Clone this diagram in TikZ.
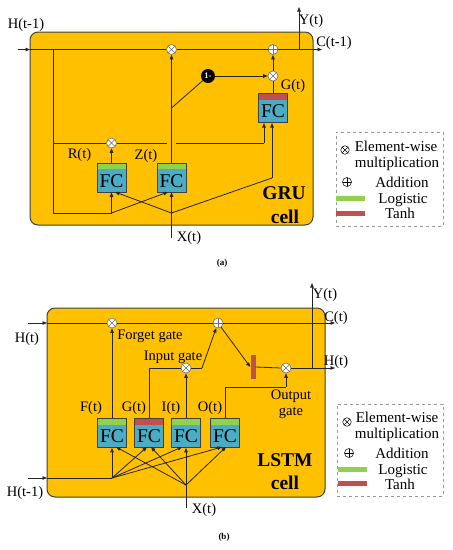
\documentclass[tikz,border=0pt]{standalone}
\usepackage{fontspec}
\setmainfont{Liberation Serif}
\usetikzlibrary{arrows.meta}
\definecolor{gold}{HTML}{FFC000}
\definecolor{boxc}{HTML}{404040}
\definecolor{fcblue}{HTML}{4BACC6}
\definecolor{lgreen}{HTML}{92D050}
\definecolor{lred}{HTML}{C0504D}
\definecolor{lnc}{HTML}{262626}
\definecolor{circc}{HTML}{6F6F6F}
\newcommand\lblfont{\fontsize{14.5}{16}\selectfont}
\newcommand\fcfont{\fontsize{19.5}{20}\selectfont}
\newcommand\cellfont{\fontsize{19.5}{21}\selectfont\bfseries}
\newcommand\capfont{\fontsize{9}{10}\selectfont\bfseries}
\tikzset{
  cellbox/.style={draw=boxc, line width=1pt, fill=gold, rounded corners=8pt, inner sep=0pt},
  ln/.style={draw=lnc, line width=0.8pt},
  arr/.style={ln, -{Triangle[length=4.5pt,width=3.5pt]}},
  lbl/.style={font=\lblfont, inner sep=0pt, text=black},
  celltxt/.style={font=\cellfont, inner sep=0pt},
  multc/.style={circle, draw=circc, fill=white, line width=0.6pt, minimum size=10pt, inner sep=0pt,
    path picture={\draw[circc, line width=0.5pt] (path picture bounding box.north west) -- (path picture bounding box.south east) (path picture bounding box.north east) -- (path picture bounding box.south west);}},
  addc/.style={circle, draw=circc, fill=white, line width=0.6pt, minimum size=10pt, inner sep=0pt,
    path picture={\draw[circc, line width=0.5pt] (path picture bounding box.north) -- (path picture bounding box.south) (path picture bounding box.west) -- (path picture bounding box.east);}},
  legmult/.style={circle, draw=black, line width=0.5pt, minimum size=8.5pt, inner sep=0pt,
    path picture={\draw[black, line width=0.4pt] (path picture bounding box.north west) -- (path picture bounding box.south east) (path picture bounding box.north east) -- (path picture bounding box.south west);}},
  legadd/.style={circle, draw=black, line width=0.5pt, minimum size=9pt, inner sep=0pt,
    path picture={\draw[black, line width=0.4pt] (path picture bounding box.north) -- (path picture bounding box.south) (path picture bounding box.west) -- (path picture bounding box.east);}},
  onec/.style={circle, fill=black, minimum size=14pt, inner sep=0pt, text=white, font=\fontsize{8.5}{8.5}\selectfont\bfseries},
  fcbox/.style={draw=boxc, fill=fcblue, line width=0.7pt, minimum width=29pt, minimum height=29pt, inner sep=0pt,
    font=\fcfont, text height=19pt, text depth=0pt,
    path picture={\fill[#1] (path picture bounding box.north west) rectangle ([yshift=-6pt]path picture bounding box.north east);}},
  legbox/.style={draw=gray!80, dashed, line width=0.6pt, inner sep=0pt},
  legbar/.style={inner sep=0pt, minimum width=29pt, minimum height=5pt, fill=#1},
  tanhbar/.style={inner sep=0pt, minimum width=5pt, minimum height=24pt, fill=lred},
}
\begin{document}
\begin{tikzpicture}[x=1pt, y=-1pt]
\useasboundingbox (0,0) rectangle (453,550);

%%%%%%%%%%%%%%%%%%%% (a) GRU %%%%%%%%%%%%%%%%%%%%
\node[cellbox, minimum width=283pt, minimum height=193pt] (gcell) at (171.5,128.5) {};

% circles
\node[multc] (gm1) at (171.5,49.5) {};
\node[addc]  (ga1) at (273,49.5) {};
\node[multc] (gm3) at (273,76) {};
\node[onec]  (gone) at (208,76) {1-};
\node[multc] (gmr) at (111.5,143) {};

% FC boxes
\node[fcbox=lgreen] (gfr) at (111.5,177.5) {FC};
\node[fcbox=lgreen] (gfz) at (171.5,177.5) {FC};
\node[fcbox=lred]   (gfg) at (273,108) {FC};

% coordinates
\coordinate (ghin) at (18,49.5);
\coordinate (ghe)  at (30,49.5);
\coordinate (gcout) at (322,49.5);
\coordinate (gyb) at (299,49.5);
\coordinate (gyt) at (299,7);
\coordinate (gtl) at (53,49.5);
\coordinate (gbl) at (53,213);
\coordinate (gjr) at (111.5,213);
\coordinate (grl) at (53,143);
\coordinate (gc1) at (167,143);
\coordinate (gc2) at (176,143);
\coordinate (gc3) at (264,143);
\coordinate (gfgin1) at (264,123);
\coordinate (gfgin2) at (272,123);
\coordinate (gxr) at (272,178);
\coordinate (gzt) at (171.5,108);
\coordinate (gxb) at (171.5,238);
\coordinate (gxj) at (171.5,213);
\coordinate (gfzin) at (168,192);
\coordinate (gfrin) at (115,192);

% connectors
\draw[arr] (ghin) -- (ghe);
\draw[ln] (ghe) -- (gm1);
\draw[ln] (gm1) -- (ga1);
\draw[arr] (ga1) -- (gcout);
\draw[arr] (gyb) -- (gyt);
\draw[ln] (gtl) -- (gbl) -- (gjr);
\draw[ln] (grl) -- (gmr);
\draw[ln] (gmr) -- (gc1);
\draw[ln] (gc2) -- (gc3);
\draw[arr] (gc3) -- (gfgin1);
\draw[arr] (gfr.north) -- (gmr.south);
\draw[arr] (gfz.north) -- (gm1.south);
\draw[ln] (gzt) -- (gone);
\draw[arr] (gone) -- (gm3);
\draw[arr] (gm3) -- (ga1);
\draw[ln] (gfg.north) -- (gm3.south);
\draw[arr] (gjr) -- (gfr.south);
\draw[arr] (gjr) -- (gfzin);
\draw[arr] (gxb) -- (gfz.south);
\draw[arr] (gxj) -- (gfrin);
\draw[ln] (gxj) -- (gxr);
\draw[arr] (gxr) -- (gfgin2);

% labels
\node[lbl] (lgh) at (26,25) {H(t-1)};
\node[lbl] (lgc) at (334,43) {C(t-1)};
\node[lbl] (lgy) at (311,21) {Y(t)};
\node[lbl] (lgg) at (293,86) {G(t)};
\node[lbl] (lgr) at (79.5,155) {R(t)};
\node[lbl] (lgz) at (146,156) {Z(t)};
\node[lbl] (lgx) at (189,238) {X(t)};
\node[celltxt] (lgru) at (284,193) {GRU};
\node[celltxt] (lgcell) at (285,217) {cell};
\node[font=\capfont, inner sep=0pt] (capa) at (222,263) {(a)};

% legend a
\node[legbox, minimum width=107pt, minimum height=94pt] (lega) at (389.5,179) {};
\node[legmult] (lam) at (345,150) {};
\node[lbl, font=\fontsize{15}{16}\selectfont] (la1t) at (396,146) {Element-wise};
\node[lbl, font=\fontsize{15}{16}\selectfont] (la2t) at (397,164) {multiplication};
\node[legadd] (laa) at (347,182) {};
\node[lbl, font=\fontsize{15}{16}\selectfont] (la3t) at (402,182) {Addition};
\node[legbar=lgreen] (lag) at (350.5,198) {};
\node[lbl, font=\fontsize{15}{16}\selectfont] (la4t) at (403,200) {Logistic};
\node[legbar=lred] (lar) at (350.5,213) {};
\node[lbl, font=\fontsize{15}{16}\selectfont] (la5t) at (400,213) {Tanh};

%%%%%%%%%%%%%%%%%%%% (b) LSTM %%%%%%%%%%%%%%%%%%%%
\node[cellbox, minimum width=278pt, minimum height=189pt] (lcell) at (186,402.5) {};

\node[multc] (lm1) at (112,323) {};
\node[addc]  (la1) at (218,323) {};
\node[multc] (lmi) at (186,368) {};
\node[multc] (lmo) at (286,368) {};
\node[tanhbar] (ltanh) at (253,367) {};

\node[fcbox=lgreen] (lff) at (112,433) {FC};
\node[fcbox=lred]   (lfg) at (149,433) {FC};
\node[fcbox=lgreen] (lfi) at (186,433) {FC};
\node[fcbox=lgreen] (lfo) at (225,433) {FC};

\coordinate (lhin) at (28,323);
\coordinate (lhe) at (47,323);
\coordinate (lcout) at (335,323);
\coordinate (lgc) at (149,368);
\coordinate (lic) at (202,368);
\coordinate (loc1) at (225,387);
\coordinate (loc2) at (286,387);
\coordinate (lhout) at (335,368);
\coordinate (lyb) at (312,368);
\coordinate (lyt) at (312,283);
\coordinate (lh1in) at (28,478);
\coordinate (lh1e) at (47,478);
\coordinate (lhj) at (112,478);
\coordinate (lxb) at (186,508);
\coordinate (lxj) at (186,485);
\coordinate (lgin1) at (147,447);
\coordinate (liin1) at (182,447);
\coordinate (loin1) at (222,447);
\coordinate (lfin2) at (116,447);
\coordinate (lgin2) at (151,447);
\coordinate (loin2) at (226,447);

\draw[arr] (lhin) -- (lhe);
\draw[ln] (lhe) -- (lm1);
\draw[ln] (lm1) -- (la1);
\draw[arr] (la1) -- (lcout);
\draw[arr] (lff.north) -- (lm1.south);
\draw[ln] (lfg.north) -- (lgc) -- (lmi.west);
\draw[arr] (lfi.north) -- (lmi.south);
\draw[ln] (lmi) -- (lic);
\draw[arr] (lic) -- (la1);
\draw[arr] (la1) -- (ltanh.west);
\draw[ln] (ltanh.east) -- (lmo.west);
\draw[ln] (lfo.north) -- (loc1) -- (loc2);
\draw[arr] (loc2) -- (lmo.south);
\draw[arr] (lmo) -- (lhout);
\draw[arr] (lyb) -- (lyt);
\draw[arr] (lh1in) -- (lh1e);
\draw[ln] (lh1e) -- (lhj);
\draw[arr] (lhj) -- (lff.south);
\draw[arr] (lhj) -- (lgin1);
\draw[arr] (lhj) -- (liin1);
\draw[arr] (lhj) -- (loin1);
\draw[arr] (lxb) -- (lfi.south);
\draw[arr] (lxj) -- (lfin2);
\draw[arr] (lxj) -- (lgin2);
\draw[arr] (lxj) -- (loin2);

\node[lbl] (llh) at (27,339) {H(t)};
\node[lbl] (llc) at (336,318) {C(t)};
\node[lbl] (llho) at (336,362) {H(t)};
\node[lbl] (lly) at (325,295) {Y(t)};
\node[lbl] (llh1) at (25,493) {H(t-1)};
\node[lbl] (llx) at (204,510) {X(t)};
\node[lbl] (llf) at (91,408) {F(t)};
\node[lbl] (llg) at (134,408) {G(t)};
\node[lbl] (lli) at (171,408) {I(t)};
\node[lbl] (llo) at (210,408) {O(t)};
\node[lbl] (llfg) at (150,336) {Forget gate};
\node[lbl] (llig) at (173,357) {Input gate};
\node[lbl] (llog1) at (291,396) {Output};
\node[lbl] (llog2) at (291,413) {gate};
\node[celltxt] (llstm) at (285,460) {LSTM};
\node[celltxt] (llcell) at (285,483) {cell};
\node[font=\capfont, inner sep=0pt] (capb) at (224,537) {(b)};

% legend b
\node[legbox, minimum width=106pt, minimum height=92pt] (legb) at (390,450) {};
\node[legmult] (lbm) at (347,422) {};
\node[lbl, font=\fontsize{15}{16}\selectfont] (lb1t) at (397,417) {Element-wise};
\node[lbl, font=\fontsize{15}{16}\selectfont] (lb2t) at (397,435) {multiplication};
\node[legadd] (lba) at (349,453) {};
\node[lbl, font=\fontsize{15}{16}\selectfont] (lb3t) at (402,453) {Addition};
\node[legbar=lgreen] (lbg) at (352.5,469) {};
\node[lbl, font=\fontsize{15}{16}\selectfont] (lb4t) at (403,471) {Logistic};
\node[legbar=lred] (lbr) at (352.5,483) {};
\node[lbl, font=\fontsize{15}{16}\selectfont] (lb5t) at (400,484) {Tanh};
\end{tikzpicture}
\end{document}
